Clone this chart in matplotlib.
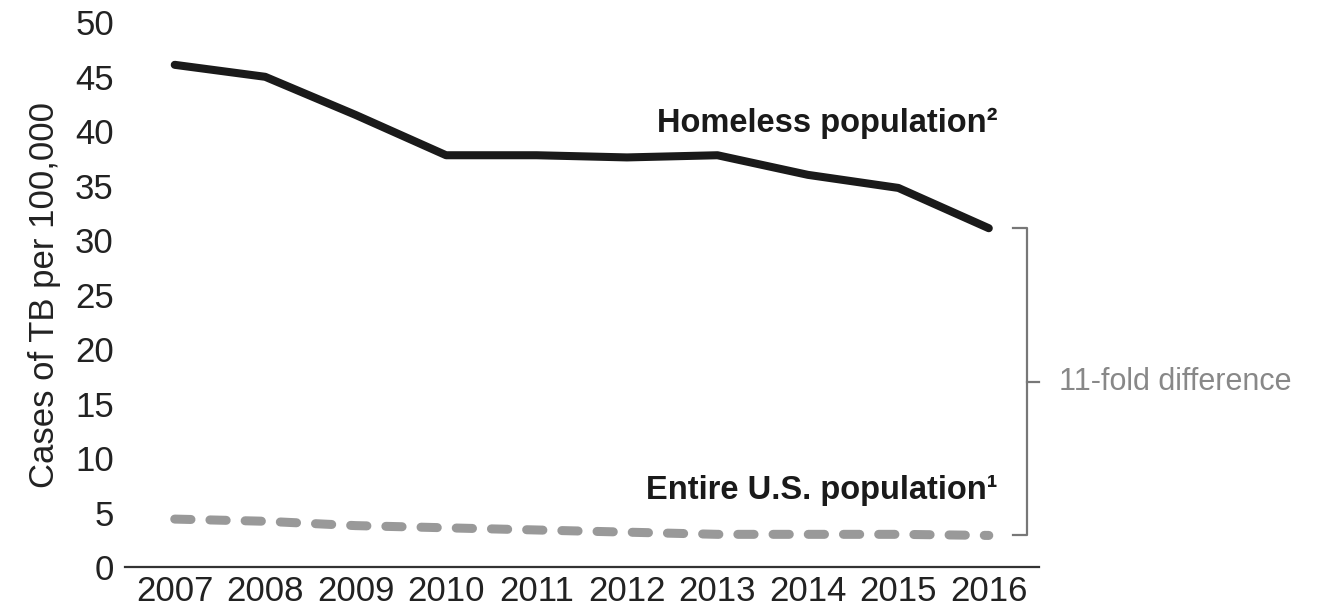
import matplotlib.pyplot as plt

plt.rcParams['font.family'] = ['Liberation Sans', 'DejaVu Sans']

years = [2007, 2008, 2009, 2010, 2011, 2012, 2013, 2014, 2015, 2016]
homeless = [46.1, 45.0, 41.5, 37.8, 37.8, 37.6, 37.8, 36.0, 34.8, 31.1]
entire_us = [4.4, 4.2, 3.8, 3.6, 3.4, 3.2, 3.0, 3.0, 3.0, 2.9]

fig = plt.figure(figsize=(13.24, 6.12), dpi=100)
ax = fig.add_axes([0.0944, 0.0735, 0.69, 0.89])

ax.plot(years, homeless, color='#1a1a1a', lw=5.8, solid_capstyle='round',
        solid_joinstyle='round')
ax.plot(years, entire_us, color='#999999', lw=6.5, dashes=(1.8, 2.1),
        dash_capstyle='round')

ax.set_xlim(2006.45, 2016.55)
ax.set_ylim(0, 50)
ax.set_xticks(years)
ax.set_yticks(range(0, 51, 5))
ax.tick_params(length=0, labelsize=25, colors='#222222', pad=8)
ax.tick_params(axis='x', pad=6)

for s in ['top', 'right', 'left']:
    ax.spines[s].set_visible(False)
ax.spines['bottom'].set_color('#333333')
ax.spines['bottom'].set_linewidth(1.6)

ax.set_ylabel('Cases of TB per 100,000', fontsize=25, color='#222222', labelpad=10)

# series labels
ax.text(2016.1, 40.7, 'Homeless population²', fontsize=23.5, fontweight='bold',
        ha='right', va='center', color='#1a1a1a')
ax.text(2016.1, 7.0, 'Entire U.S. population¹', fontsize=23.5, fontweight='bold',
        ha='right', va='center', color='#1a1a1a')

# bracket showing the gap
bx = 2016.42
top = homeless[-1]
bot = entire_us[-1]
mid = (top + bot) / 2
bc = '#777777'
ax.plot([bx - 0.15, bx, bx, bx - 0.15], [top, top, bot, bot], color=bc, lw=1.6,
        clip_on=False)
ax.plot([bx, bx + 0.13], [mid, mid], color=bc, lw=1.6, clip_on=False)
ax.text(bx + 0.36, mid, '11-fold difference', fontsize=22, color='#888888',
        ha='left', va='center', clip_on=False)

plt.savefig('out.png', dpi=100)
